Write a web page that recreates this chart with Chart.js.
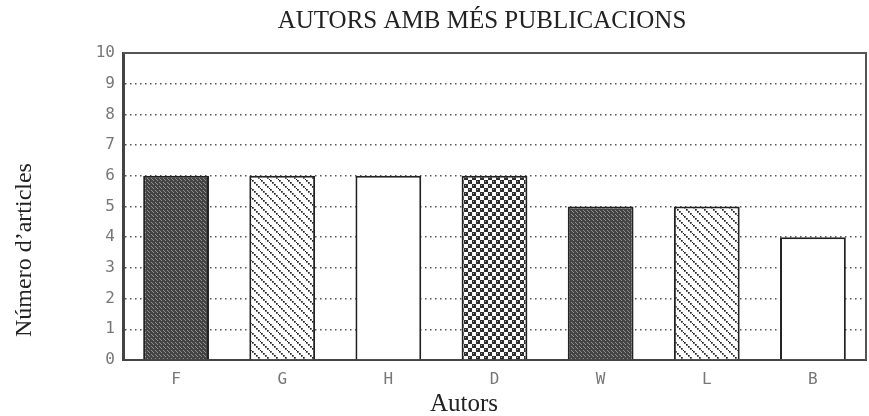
<!DOCTYPE html>
<html>
<head>
<meta charset="utf-8">
<script src="https://cdn.jsdelivr.net/npm/chart.js@4"></script>
<style>
  html, body { margin: 0; padding: 0; background: #fff; }
  #wrap { width: 869px; height: 416px; }
</style>
</head>
<body>
<div id="wrap"><canvas id="chart" width="869" height="416"></canvas></div>
<script>
const authors = ["F", "G", "H", "D", "W", "L", "B"];
const articles = [6, 6, 6, 6, 5, 5, 4];
const fills = ["dark", "hatch", "white", "checker", "dark", "hatch", "white"];
const yTicks = [0, 1, 2, 3, 4, 5, 6, 7, 8, 9, 10];

const chartTitle = "AUTORS AMB MÉS PUBLICACIONS";
const xTitle = "Autors";
const yTitle = "Número d’articles";

// little tiles to imitate the printer patterns
function makePattern(kind) {
  const c = document.createElement("canvas");
  const g = c.getContext("2d");
  if (kind === "dark") {
    c.width = 4; c.height = 4;
    g.fillStyle = "#444";
    g.fillRect(0, 0, 4, 4);
    g.fillStyle = "#8f8f8f";
    g.fillRect(1, 0, 1, 1);
    g.fillRect(3, 2, 1, 1);
    g.fillRect(0, 3, 1, 1);
  } else if (kind === "hatch") {
    c.width = 9; c.height = 9;
    g.fillStyle = "#fff";
    g.fillRect(0, 0, 9, 9);
    g.fillStyle = "#222";
    for (let i = 0; i < 9; i += 2) g.fillRect(i, i, 1.7, 1.7);
  } else if (kind === "checker") {
    c.width = 8; c.height = 8;
    g.fillStyle = "#fff";
    g.fillRect(0, 0, 8, 8);
    g.fillStyle = "#2e2e2e";
    g.fillRect(0, 0, 4, 4);
    g.fillRect(4, 4, 4, 4);
    g.fillStyle = "#999";
    g.fillRect(1, 1, 1, 1);
    g.fillRect(5, 5, 1, 1);
  } else {
    return "#ffffff";
  }
  return g.createPattern(c, "repeat");
}

// frame on top/right plus the three titles, placed like the printout
const frame = {
  id: "frame",
  afterDatasetsDraw(chart) {
    const { ctx, chartArea: a } = chart;
    ctx.save();
    ctx.strokeStyle = "#555";
    ctx.lineWidth = 2;
    ctx.beginPath();
    ctx.moveTo(a.left, a.top);
    ctx.lineTo(a.right, a.top);
    ctx.lineTo(a.right, a.bottom);
    ctx.stroke();

    ctx.fillStyle = "#222";
    ctx.font = "25px 'Liberation Serif'";
    ctx.textAlign = "center";
    ctx.textBaseline = "alphabetic";
    ctx.fillText(chartTitle, 482, 28);
    ctx.fillText(xTitle, 464, 411);

    ctx.font = "24px 'Liberation Serif'";
    ctx.translate(31, 250);
    ctx.rotate(-Math.PI / 2);
    ctx.fillText(yTitle, 0, 0);
    ctx.restore();
  }
};

new Chart(document.getElementById("chart"), {
  type: "bar",
  data: {
    labels: authors,
    datasets: [{
      data: articles,
      backgroundColor: fills.map(makePattern),
      borderColor: "#222",
      borderWidth: 2,
      barPercentage: 0.62,
      categoryPercentage: 1
    }]
  },
  options: {
    responsive: false,
    animation: false,
    layout: { padding: { left: 0, right: 3, top: 53, bottom: 0 } },
    plugins: {
      legend: { display: false },
      tooltip: { enabled: false },
      title: { display: false }
    },
    scales: {
      x: {
        grid: { display: false },
        border: { color: "#444", width: 2 },
        ticks: { color: "#777", font: { family: "DejaVu Sans Mono", size: 16 }, padding: 2 },
        afterFit: s => { s.height = 56; }
      },
      y: {
        min: 0,
        max: 10,
        afterBuildTicks: s => { s.ticks = yTicks.map(v => ({ value: v })); },
        grid: {
          color: "#555",
          lineWidth: 1.5,
          drawTicks: false
        },
        border: { color: "#444", width: 3, dash: [1.5, 3.5] },
        ticks: { color: "#777", font: { family: "DejaVu Sans Mono", size: 16 }, padding: 8 },
        afterFit: s => { s.width = 123; }
      }
    }
  },
  plugins: [frame]
});
</script>
</body>
</html>
